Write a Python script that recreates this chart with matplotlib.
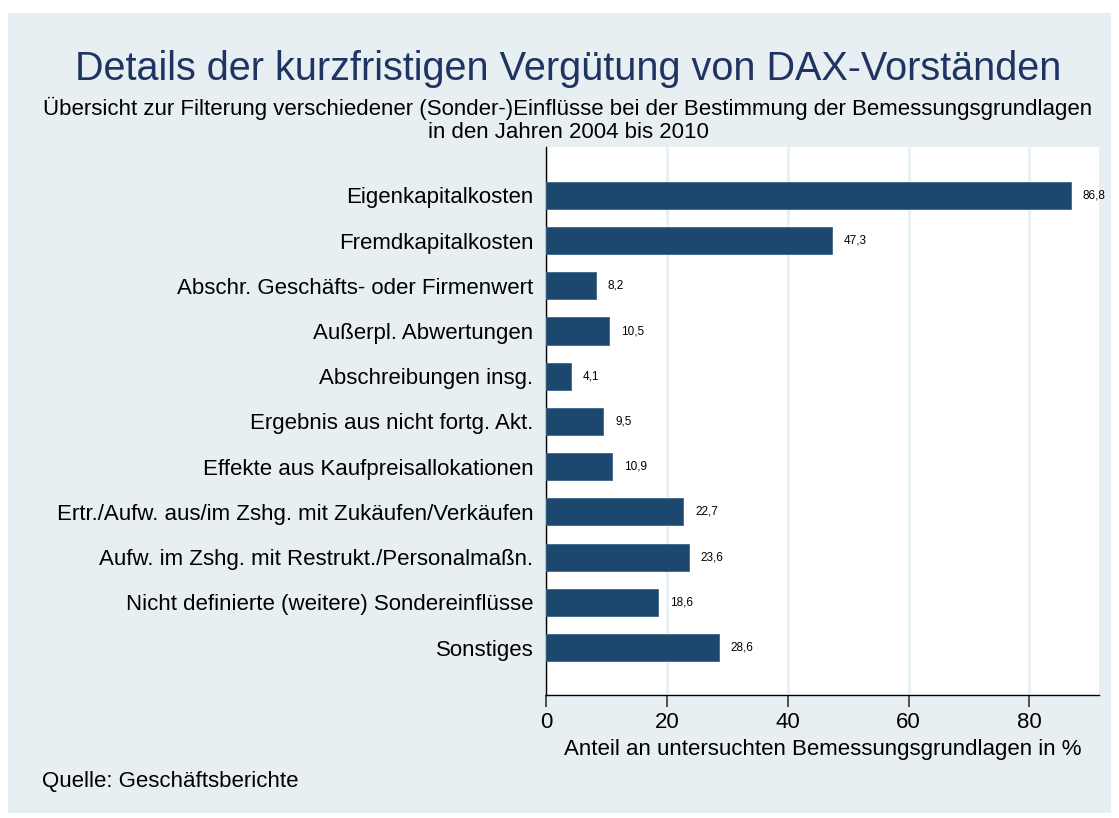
import matplotlib
matplotlib.use("Agg")
import matplotlib.pyplot as plt
from matplotlib.patches import Rectangle

categories = [
    "Eigenkapitalkosten",
    "Fremdkapitalkosten",
    "Abschr. Geschäfts- oder Firmenwert",
    "Außerpl. Abwertungen",
    "Abschreibungen insg.",
    "Ergebnis aus nicht fortg. Akt.",
    "Effekte aus Kaufpreisallokationen",
    "Ertr./Aufw. aus/im Zshg. mit Zukäufen/Verkäufen",
    "Aufw. im Zshg. mit Restrukt./Personalmaßn.",
    "Nicht definierte (weitere) Sondereinflüsse",
    "Sonstiges",
]
values = [86.8, 47.3, 8.2, 10.5, 4.1, 9.5, 10.9, 22.7, 23.6, 18.6, 28.6]
value_labels = ["86,8", "47,3", "8,2", "10,5", "4,1", "9,5", "10,9", "22,7", "23,6", "18,6", "28,6"]
xticks = [0, 20, 40, 60, 80]

plt.rcParams['font.family'] = ['Liberation Sans', 'DejaVu Sans']

W, H = 1119, 818
fig = plt.figure(figsize=(W / 100, H / 100), dpi=100)
fig.patch.set_facecolor("white")

panel_bg = "#e8eff2"
fig.patches.append(Rectangle((8 / W, 1 - 813 / H), (1111 - 8) / W, (813 - 13) / H,
                             transform=fig.transFigure, facecolor=panel_bg,
                             edgecolor="none", zorder=-10))

left, right, top, bottom = 546, 1099, 147, 695
ax = fig.add_axes([left / W, 1 - bottom / H, (right - left) / W, (bottom - top) / H])
ax.set_zorder(5)
ax.set_facecolor("white")

pos = list(range(len(categories)))
bar_color = "#1c476e"
ax.barh(pos, values, height=0.6, color=bar_color, edgecolor="#3d6688", linewidth=0.6, zorder=3)
for p, v, lab in zip(pos, values, value_labels):
    ax.annotate(lab, (v, p), xytext=(8.5, 0), textcoords="offset points",
                va="center", ha="left", fontsize=8.5, color="black")

ax.set_ylim(len(categories) - 1 + 1.05, -1.07)
ax.set_xlim(0, 91.5)
ax.set_yticks(pos)
ax.set_yticklabels(categories, fontsize=16)
ax.tick_params(axis="y", length=0, pad=9)
ax.set_xticks(xticks)
ax.set_xticklabels([str(t) for t in xticks], fontsize=16)
ax.tick_params(axis="x", length=8.5, width=1.2, color="#333333", pad=4)
ax.xaxis.grid(True, color="#e9f1f3", linewidth=2.2, zorder=0)
ax.set_axisbelow(True)
for s in ["top", "right"]:
    ax.spines[s].set_visible(False)
ax.spines["left"].set_color("black")
ax.spines["bottom"].set_color("black")
ax.spines["left"].set_linewidth(1)
ax.spines["bottom"].set_linewidth(1)

ax.set_xlabel("Anteil an untersuchten Bemessungsgrundlagen in %", fontsize=16, labelpad=4)

fig.text(568 / W, 1 - 80 / H, "Details der kurzfristigen Vergütung von DAX-Vorständen",
         ha="center", va="baseline", fontsize=28.5, color="#1f3461")
fig.text(568 / W, 1 - 115 / H,
         "Übersicht zur Filterung verschiedener (Sonder-)Einflüsse bei der Bestimmung der Bemessungsgrundlagen",
         ha="center", va="baseline", fontsize=16, color="black")
fig.text(568 / W, 1 - 138 / H, "in den Jahren 2004 bis 2010",
         ha="center", va="baseline", fontsize=16, color="black")
fig.text(42 / W, 1 - 782 / H, "Quelle: Geschäftsberichte", ha="left", va="center",
         fontsize=16, color="black")

fig.savefig("out.png", dpi=100, facecolor=fig.get_facecolor())
